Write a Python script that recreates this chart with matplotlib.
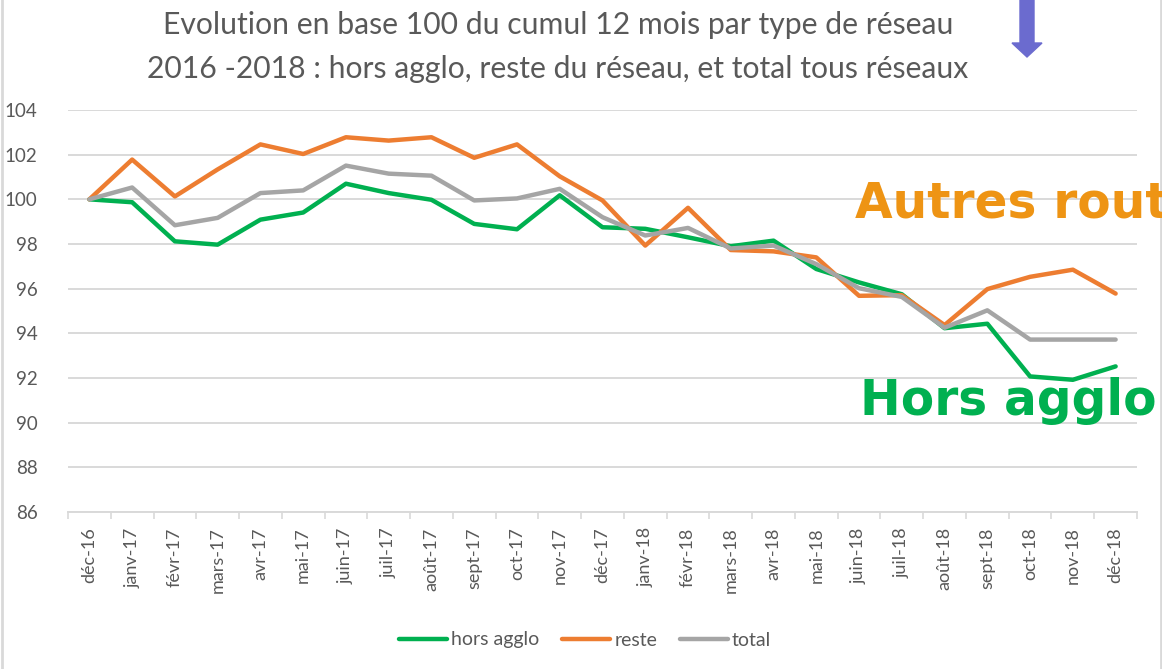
import matplotlib
matplotlib.use("Agg")
import matplotlib.pyplot as plt
from matplotlib.patches import FancyArrow
from matplotlib.lines import Line2D

months = ["déc-16", "janv-17", "févr-17", "mars-17", "avr-17", "mai-17", "juin-17",
          "juil-17", "août-17", "sept-17", "oct-17", "nov-17", "déc-17", "janv-18",
          "févr-18", "mars-18", "avr-18", "mai-18", "juin-18", "juil-18", "août-18",
          "sept-18", "oct-18", "nov-18", "déc-18"]

hors_agglo = [100.0, 99.87, 98.12, 97.97, 99.09, 99.41, 100.7, 100.28, 99.98, 98.9,
              98.66, 100.18, 98.75, 98.68, 98.3, 97.9, 98.15, 96.88, 96.28, 95.75,
              94.23, 94.43, 92.07, 91.92, 92.52]
reste = [100.0, 101.78, 100.13, 101.34, 102.46, 102.03, 102.78, 102.63, 102.78, 101.86,
         102.46, 101.03, 99.95, 97.93, 99.62, 97.73, 97.67, 97.4, 95.68, 95.71,
         94.37, 95.98, 96.53, 96.85, 95.78]
total = [100.0, 100.53, 98.84, 99.17, 100.28, 100.4, 101.51, 101.15, 101.06, 99.95,
         100.04, 100.47, 99.2, 98.38, 98.72, 97.8, 97.93, 97.1, 96.02, 95.63,
         94.25, 95.03, 93.72, 93.72, 93.72]

yticks = [86, 88, 90, 92, 94, 96, 98, 100, 102, 104]
series_names = ["hors agglo", "reste", "total"]

GREEN = "#00B050"
ORANGE = "#ED7D31"
GREY = "#A5A5A5"
TXT = "#595959"
GRID = "#D9D9D9"

plt.rcParams['font.family'] = ['Lato', 'DejaVu Sans']

W, H = 1162, 669
fig = plt.figure(figsize=(W / 100, H / 100), dpi=100)
ax = fig.add_axes([68 / W, 1 - 512 / H, (1137 - 68) / W, (512 - 110) / H])

x = list(range(len(months)))
ax.plot(x, hors_agglo, color=GREEN, lw=3.2, solid_joinstyle="round", solid_capstyle="round", zorder=3)
ax.plot(x, reste, color=ORANGE, lw=3.2, solid_joinstyle="round", solid_capstyle="round", zorder=3)
ax.plot(x, total, color=GREY, lw=3.2, solid_joinstyle="round", solid_capstyle="round", zorder=3)

ax.set_xlim(-0.5, len(months) - 0.5)
ax.set_ylim(86, 104)
ax.set_yticks(yticks)
ax.set_yticklabels([str(v) for v in yticks], fontsize=13.5, color=TXT)
ax.tick_params(axis="y", length=0, pad=22)
ax.grid(axis="y", color=GRID, lw=1.4, zorder=0)

ax.set_xticks(x)
ax.set_xticklabels(months, rotation=90, fontsize=13, color=TXT)
ax.tick_params(axis="x", which="major", length=0, pad=11)
ax.set_xticks([i - 0.5 for i in range(len(months) + 1)], minor=True)
ax.tick_params(axis="x", which="minor", length=5, width=1.2, color=GRID)

for s in ["top", "right", "left"]:
    ax.spines[s].set_visible(False)
ax.spines["bottom"].set_color(GRID)
ax.spines["bottom"].set_linewidth(1.4)

# Title
fig.text(558 / W, 1 - 25 / H, "Evolution en base 100 du cumul 12 mois par type de réseau",
         ha="center", va="center", fontsize=21.7, color=TXT)
fig.text(558 / W, 1 - 69 / H, "2016 -2018 : hors agglo, reste du réseau, et total tous réseaux",
         ha="center", va="center", fontsize=21.7, color=TXT)

# Annotations
fig.text(855 / W, 1 - 218 / H, "Autres routes", ha="left", va="baseline",
         fontsize=35, fontweight="bold", color="#EE9414", family="DejaVu Sans", zorder=5)
fig.text(860 / W, 1 - 415 / H, "Hors agglo", ha="left", va="baseline",
         fontsize=35, fontweight="bold", color=GREEN, family="DejaVu Sans", zorder=5)

# Arrow
fig.patches.append(FancyArrow(1027 / W, 1.0, 0, -57 / H, width=14 / W, head_width=30 / W,
                              head_length=14 / H, length_includes_head=True,
                              color="#6B6BCF", transform=fig.transFigure, figure=fig))

# Frame borders
fig.add_artist(Line2D([2.5 / W, 2.5 / W], [0, 1], color=GRID, lw=2, transform=fig.transFigure))
fig.add_artist(Line2D([1161 / W, 1161 / W], [0, 1], color=GRID, lw=2, transform=fig.transFigure))

# Legend
handles = [Line2D([], [], color=c, lw=3.2, solid_capstyle="round") for c in (GREEN, ORANGE, GREY)]
fig.legend(handles, series_names, loc="center", bbox_to_anchor=(585 / W, 1 - 640 / H),
           ncol=3, frameon=False, fontsize=14, labelcolor=TXT, handlelength=2.5,
           handletextpad=0.2, columnspacing=1.15)

fig.savefig("out.png", dpi=100)
